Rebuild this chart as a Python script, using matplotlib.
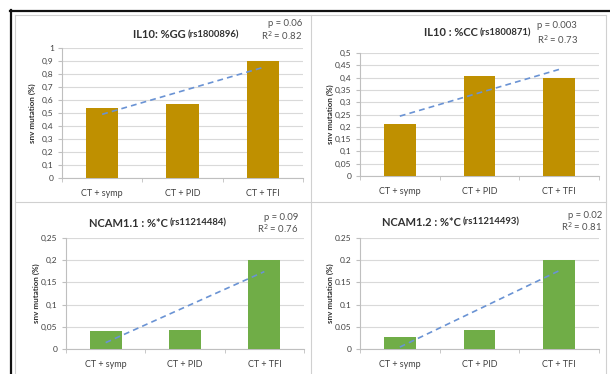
import numpy as np
import matplotlib
matplotlib.use("Agg")
import matplotlib.pyplot as plt
from matplotlib.lines import Line2D
from matplotlib.ticker import FuncFormatter

categories = ["CT + symp", "CT + PID", "CT + TFI"]

il10_gg = [0.54, 0.57, 0.90]
il10_cc = [0.21, 0.405, 0.40]
ncam11 = [0.04, 0.043, 0.20]
ncam12 = [0.028, 0.043, 0.20]

titles = ["IL10: %GG", "IL10 : %CC", "NCAM1.1 : %*C", "NCAM1.2 : %*C"]
rs_ids = ["(rs1800896)", "(rs1800871)", "(rs11214484)", "(rs11214493)"]
p_texts = ["p = 0.06", "p = 0.003", "p = 0.09", "p = 0.02"]
r2_texts = ["R$^2$ = 0.82", "R$^2$ = 0.73", "R$^2$ = 0.76", "R$^2$ = 0.81"]
yticks_list = [np.arange(0, 1.01, 0.1), np.arange(0, 0.501, 0.05),
               np.arange(0, 0.251, 0.05), np.arange(0, 0.251, 0.05)]
ylims = [1.0, 0.5, 0.25, 0.25]
decimal_sep = [",", ",", ",", "."]

GOLD = "#BF9000"
GREEN = "#70AD47"
colors = [GOLD, GOLD, GREEN, GREEN]
series = [il10_gg, il10_cc, ncam11, ncam12]

W, H = 610, 374
fig = plt.figure(figsize=(W / 100, H / 100), dpi=100)
plt.rcParams['font.family'] = ['Lato', 'DejaVu Sans']

def fx(x):
    return x / W

def fy(y):
    return 1 - y / H

# axes boxes in pixels: (left, top, right, bottom)
boxes = [(62, 48, 303, 178), (360, 53, 599, 176), (66, 238, 304, 349), (360, 238, 599, 349)]
# title placement: (split x, y)
title_pos = [(186, 35), (478, 33), (168, 223), (461, 222)]
# p text: (x, y_p, y_r2, ha)
p_pos = [(302, 24, 36, "right"), (537, 25, 40, "left"), (298, 218, 229, "right"), (602, 215, 227, "right")]
ylabel_x = [32, 330, 36, 330]

for i in range(4):
    l, t, r, b = boxes[i]
    ax = fig.add_axes([fx(l), fy(b), fx(r - l), (b - t) / H])
    vals = series[i]
    x = np.arange(len(categories))
    ax.bar(x, vals, width=0.4, color=colors[i], zorder=3)
    coef = np.polyfit(x, vals, 1)
    ax.plot(x, np.polyval(coef, x), linestyle=(0, (3.5, 2.5)), color="#6A93D4", lw=1.2, zorder=4)
    ax.set_xlim(-0.5, 2.5)
    ax.set_ylim(0, ylims[i])
    ax.set_yticks(yticks_list[i])
    sep = decimal_sep[i]
    def fmt(v, pos, sep=sep):
        s = f"{v:.2f}".rstrip("0").rstrip(".")
        if s == "":
            s = "0"
        return s.replace(".", sep)
    ax.yaxis.set_major_formatter(FuncFormatter(fmt))
    ax.set_xticks(x)
    ax.set_xticklabels(categories, fontsize=6.5, color="#404040")
    ax.set_xticks([-0.5, 0.5, 1.5, 2.5], minor=True)
    ax.tick_params(axis="x", which="major", length=0, pad=8)
    ax.tick_params(axis="x", which="minor", length=3, color="#BFBFBF", direction="out")
    ax.tick_params(axis="y", labelsize=6, length=3, color="#BFBFBF", labelcolor="#404040", pad=3)
    ax.grid(axis="y", color="#D9D9D9", lw=0.8, zorder=0)
    for s in ["top", "right"]:
        ax.spines[s].set_visible(False)
    ax.spines["left"].set_color("#BFBFBF")
    ax.spines["bottom"].set_color("#BFBFBF")
    ax.set_facecolor("none")

    # y label
    fig.text(fx(ylabel_x[i]), fy((t + b) / 2), "snv mutation (%)", rotation=90,
             ha="center", va="center", fontsize=5.8, fontweight="bold", color="#303030")
    # title
    sx, sy = title_pos[i]
    fig.text(fx(sx), fy(sy), titles[i], ha="right", va="center", fontsize=8,
             fontweight="bold", color="#303030")
    fig.text(fx(sx + 2), fy(sy), rs_ids[i], ha="left", va="center", fontsize=6.8,
             fontweight="bold", color="#303030")
    # p / R2
    px_, py1, py2, ha = p_pos[i]
    fig.text(fx(px_), fy(py1), p_texts[i], ha=ha, va="center", fontsize=6.8, color="#505050")
    fig.text(fx(px_), fy(py2), r2_texts[i], ha=ha, va="center", fontsize=6.8, color="#505050")

# frame lines
def line(x0, y0, x1, y1, color, lw):
    fig.add_artist(Line2D([fx(x0), fx(x1)], [fy(y0), fy(y1)], color=color, lw=lw,
                          transform=fig.transFigure))

line(10, 10.5, 609, 10.5, "#111111", 1.6)
line(10.5, 10, 10.5, 374, "#111111", 1.6)
line(15, 15, 606, 15, "#D0D0D0", 0.8)
line(15, 15, 15, 374, "#D0D0D0", 0.8)
line(606, 15, 606, 374, "#D0D0D0", 0.8)
line(311, 15, 311, 374, "#D0D0D0", 0.8)
line(15, 202, 606, 202, "#D0D0D0", 0.8)

fig.savefig("out.png", dpi=100)
